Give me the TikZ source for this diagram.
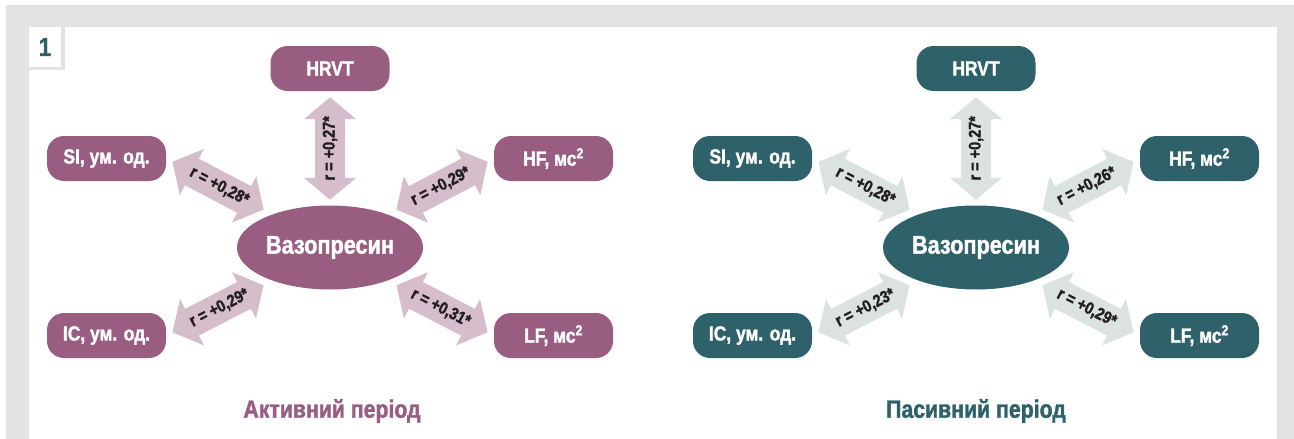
\documentclass[tikz,border=0pt]{standalone}
\usepackage{fontspec}
\setmainfont{Liberation Sans}[FakeStretch=0.85, BoldFeatures={FakeBold=1.5}]
\usepackage{tikz}
\usetikzlibrary{arrows.meta}
\usetikzlibrary{shapes.geometric}
\usetikzlibrary{positioning}
\usepackage{xcolor}
\definecolor{bggray}{HTML}{E3E3E1}
\definecolor{plum}{HTML}{985D80}
\definecolor{plumlight}{HTML}{D5BDCC}
\definecolor{teal}{HTML}{2E6169}
\definecolor{teallight}{HTML}{DAE3E1}
\definecolor{inkcol}{HTML}{231F20}
\tikzset{
  box/.style={rounded corners=17pt, minimum width=119pt, minimum height=45pt,
    inner sep=0pt, text=white, font=\fontsize{20.5}{24}\selectfont\bfseries},
  hub/.style={ellipse, minimum width=186pt, minimum height=84pt, inner sep=0pt,
    text=white, font=\fontsize{25.5}{28}\selectfont\bfseries},
  corr/.style={line width=30pt, {Triangle[width=51pt,length=22pt]}-{Triangle[width=51pt,length=22pt]}},
  rlabel/.style={midway, sloped, text=inkcol, font=\fontsize{17}{20}\selectfont\bfseries},
  period/.style={font=\fontsize{25}{30}\selectfont\bfseries}
}

\begin{document}
\begin{tikzpicture}[x=1pt, y=-1pt]
	\useasboundingbox (0,0) rectangle (1294,439);
	% frame
	\fill[white] (0,0) rectangle (1294,439);
	\fill[bggray] (6,5) rectangle (1294,439);
	\fill[white] (29,27) rectangle (1277,439);
	\fill[bggray] (29,27) rectangle (65,70);
	\fill[white] (29,27) rectangle (61,67);
	\node[text=teal, font=\fontsize{26}{30}\selectfont\bfseries] (num) at (45,47) {1};

	% active period
	\node[box, fill=plum] (hrvtL) at (330,68.5) {HRVT};
	\node[box, fill=plum] (siL) at (106.5,158.5) {SI, ум. од.};
	\node[box, fill=plum] (hfL) at (553.5,158.5) {HF, мс\textsuperscript{2}};
	\node[box, fill=plum] (icL) at (106.5,335.5) {IC, ум. од.};
	\node[box, fill=plum] (lfL) at (553.5,335.5) {LF, мс\textsuperscript{2}};
	\node[hub, fill=plum] (vasoL) at (330,247.5) {Вазопресин};
	\draw[corr, plumlight, shorten <=5.5pt, shorten >=6pt] (vasoL.north) -- (hrvtL.south) node[rlabel] {r = +0,27*};
	\draw[corr, plumlight, shorten <=7pt, shorten >=10pt] (siL.east) -- (vasoL.150) node[rlabel] {r = +0,28*};
	\draw[corr, plumlight, shorten <=10pt, shorten >=7pt] (vasoL.30) -- (hfL.west) node[rlabel] {r = +0,29*};
	\draw[corr, plumlight, shorten <=7pt, shorten >=10pt] (icL.east) -- (vasoL.210) node[rlabel] {r = +0,29*};
	\draw[corr, plumlight, shorten <=10pt, shorten >=7pt] (vasoL.330) -- (lfL.west) node[rlabel] {r = +0,31*};
	\node[period, text=plum] (titleL) at (332,411) {Активний період};

	% passive period
	\node[box, fill=teal] (hrvtR) at (976,68.5) {HRVT};
	\node[box, fill=teal] (siR) at (752.5,158.5) {SI, ум. од.};
	\node[box, fill=teal] (hfR) at (1199.5,158.5) {HF, мс\textsuperscript{2}};
	\node[box, fill=teal] (icR) at (752.5,335.5) {IC, ум. од.};
	\node[box, fill=teal] (lfR) at (1199.5,335.5) {LF, мс\textsuperscript{2}};
	\node[hub, fill=teal] (vasoR) at (976,247.5) {Вазопресин};
	\draw[corr, teallight, shorten <=5.5pt, shorten >=6pt] (vasoR.north) -- (hrvtR.south) node[rlabel] {r = +0,27*};
	\draw[corr, teallight, shorten <=7pt, shorten >=10pt] (siR.east) -- (vasoR.150) node[rlabel] {r = +0,28*};
	\draw[corr, teallight, shorten <=10pt, shorten >=7pt] (vasoR.30) -- (hfR.west) node[rlabel] {r = +0,26*};
	\draw[corr, teallight, shorten <=7pt, shorten >=10pt] (icR.east) -- (vasoR.210) node[rlabel] {r = +0,23*};
	\draw[corr, teallight, shorten <=10pt, shorten >=7pt] (vasoR.330) -- (lfR.west) node[rlabel] {r = +0,29*};
	\node[period, text=teal] (titleR) at (976,411) {Пасивний період};
\end{tikzpicture}
\end{document}
